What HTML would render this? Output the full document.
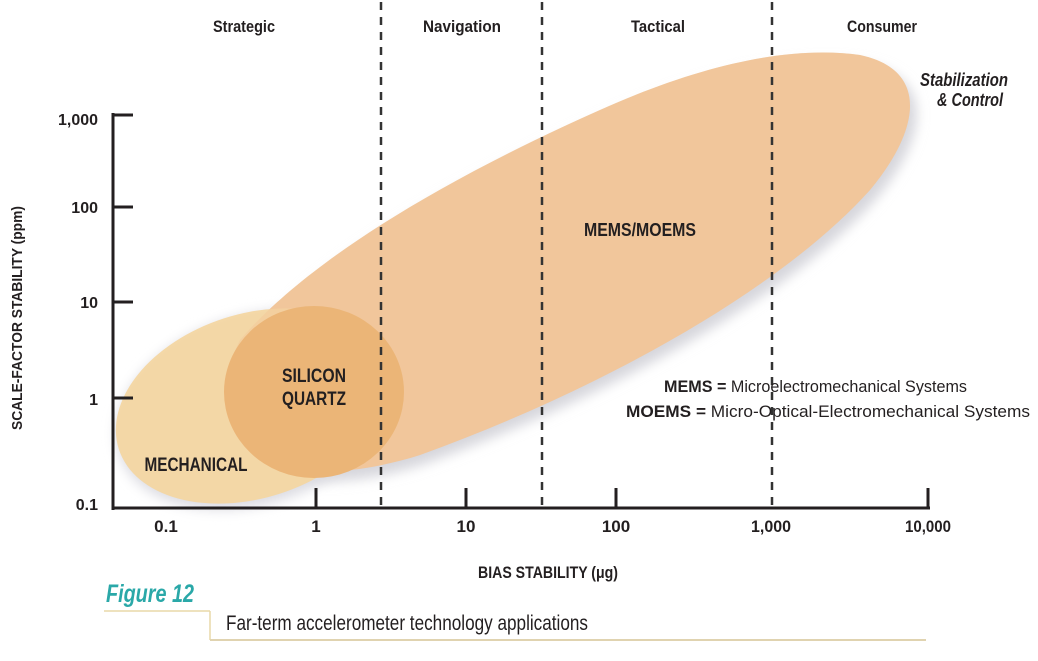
<!DOCTYPE html>
<html><head><style>
body{margin:0;background:#fff;width:1038px;height:656px;overflow:hidden}
svg text{font-family:"Liberation Sans",sans-serif;fill:#231f20}
.b{font-weight:bold}
</style></head><body>
<svg width="1038" height="656" viewBox="0 0 1038 656">
<defs>
<filter id="b" x="-20%" y="-20%" width="140%" height="140%"><feGaussianBlur stdDeviation="6"/></filter>
</defs>
<path d="M240,345 C300,270 420,190 600,112 C700,68 790,48 860,58 C935,72 922,135 870,195 C780,295 600,392 420,458 C340,484 260,484 236,432 C222,402 226,372 240,345 Z" fill="#d6d6dc" filter="url(#b)" transform="translate(4,6)"/>
<ellipse cx="254" cy="410" rx="142" ry="94" transform="rotate(-18 254 410)" fill="#dcdce2" filter="url(#b)"/>
<path d="M240,340 C300,270 420,190 600,110 C700,65 790,45 860,55 C930,70 920,130 870,190 C780,290 600,390 420,455 C340,480 260,480 235,430 C222,400 225,370 240,340 Z" fill="#f1c79b"/>
<ellipse cx="252" cy="406" rx="140" ry="92" transform="rotate(-18 252 406)" fill="#f3d6a2" opacity="0.95"/>
<path d="M240,340 C300,270 420,190 600,110 C700,65 790,45 860,55 C930,70 920,130 870,190 C780,290 600,390 420,455 C340,480 260,480 235,430 C222,400 225,370 240,340 Z" fill="#f1c79b" opacity="0.35"/>
<ellipse cx="314" cy="392" rx="90" ry="86" fill="#ebb577"/>
<g stroke="#333" stroke-width="2.5" stroke-dasharray="8,7">
<line x1="381" y1="2" x2="381" y2="508"/>
<line x1="542" y1="2" x2="542" y2="508"/>
<line x1="772" y1="2" x2="772" y2="508"/>
</g>
<g stroke="#231f20" stroke-width="3">
<line x1="113" y1="113" x2="113" y2="510"/>
<line x1="112" y1="508" x2="930" y2="508"/>
<line x1="113" y1="115" x2="133" y2="115"/>
<line x1="113" y1="207" x2="133" y2="207"/>
<line x1="113" y1="302" x2="133" y2="302"/>
<line x1="113" y1="398" x2="133" y2="398"/>
<line x1="316" y1="488" x2="316" y2="508"/>
<line x1="466" y1="488" x2="466" y2="508"/>
<line x1="616" y1="488" x2="616" y2="508"/>
<line x1="928" y1="488" x2="928" y2="508"/>
</g>
<g class="b" font-size="16" text-anchor="end">
<text x="98" y="125" textLength="40" lengthAdjust="spacingAndGlyphs">1,000</text><text x="98" y="213">100</text><text x="98" y="308">10</text><text x="98" y="405">1</text><text x="98" y="510">0.1</text>
</g>
<g class="b" font-size="17" text-anchor="middle">
<text x="166" y="532">0.1</text><text x="316" y="532">1</text><text x="466" y="532">10</text><text x="616" y="532">100</text><text x="771" y="532" textLength="40" lengthAdjust="spacingAndGlyphs">1,000</text><text x="928" y="532" textLength="46" lengthAdjust="spacingAndGlyphs">10,000</text>
<text x="244" y="32" textLength="62" lengthAdjust="spacingAndGlyphs">Strategic</text><text x="462" y="32" textLength="78" lengthAdjust="spacingAndGlyphs">Navigation</text><text x="658" y="32" textLength="54" lengthAdjust="spacingAndGlyphs">Tactical</text><text x="882" y="32" textLength="70" lengthAdjust="spacingAndGlyphs">Consumer</text>
<text x="548" y="578" textLength="140" lengthAdjust="spacingAndGlyphs">BIAS STABILITY (μg)</text>
<text x="640" y="236" font-size="18" textLength="112" lengthAdjust="spacingAndGlyphs">MEMS/MOEMS</text>
<text x="314" y="382" font-size="19" textLength="64" lengthAdjust="spacingAndGlyphs">SILICON</text><text x="314" y="405" font-size="19" textLength="64" lengthAdjust="spacingAndGlyphs">QUARTZ</text>
<text x="196" y="471" font-size="19" textLength="103" lengthAdjust="spacingAndGlyphs">MECHANICAL</text>
</g>
<text class="b" transform="translate(22,318) rotate(-90)" font-size="15" text-anchor="middle" textLength="224" lengthAdjust="spacingAndGlyphs">SCALE-FACTOR STABILITY (ppm)</text>
<g class="b" font-size="18" font-style="italic" text-anchor="middle"><text x="964" y="86" textLength="88" lengthAdjust="spacingAndGlyphs">Stabilization</text><text x="970" y="106" textLength="66" lengthAdjust="spacingAndGlyphs">&amp; Control</text></g>
<g font-size="17"><text x="664" y="392" textLength="303" lengthAdjust="spacingAndGlyphs"><tspan class="b">MEMS =</tspan>  Microelectromechanical Systems</text>
<text x="626" y="417" textLength="404" lengthAdjust="spacingAndGlyphs"><tspan class="b">MOEMS =</tspan>  Micro-Optical-Electromechanical Systems</text></g>
<text class="b" x="106" y="602" font-size="25" font-style="italic" style="fill:#2aa8a8" textLength="88" lengthAdjust="spacingAndGlyphs">Figure 12</text>
<line x1="104" y1="611" x2="210" y2="611" stroke="#e8d9a8" stroke-width="1.5"/>
<line x1="210" y1="611" x2="210" y2="640" stroke="#e8d9a8" stroke-width="1.5"/>
<line x1="210" y1="640" x2="926" y2="640" stroke="#e0d3b0" stroke-width="2"/>
<text x="226" y="630" font-size="21" textLength="362" lengthAdjust="spacingAndGlyphs">Far-term accelerometer technology applications</text>
</svg>
</body></html>
